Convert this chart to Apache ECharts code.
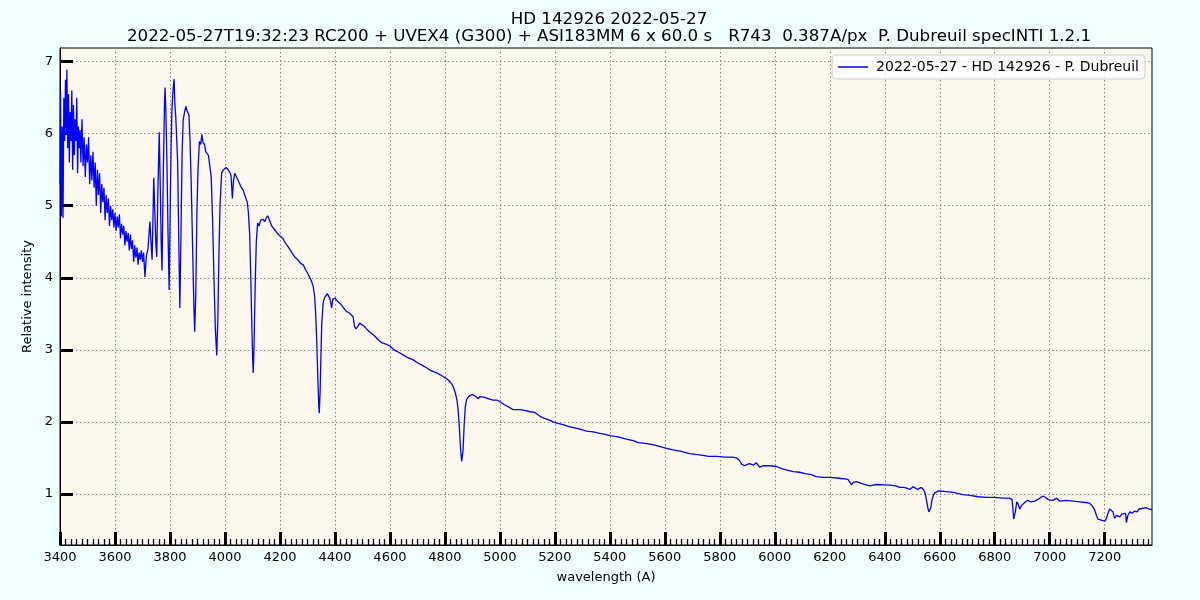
<!DOCTYPE html>
<html>
<head>
<meta charset="utf-8">
<script src="https://cdn.jsdelivr.net/npm/echarts@6/dist/echarts.min.js"></script>
<style>
html,body{margin:0;padding:0;background:#f0ffff;}
#chart{width:1200px;height:600px;}
</style>
</head>
<body>
<div id="chart"></div>
<script>
const titleLine1 = 'HD 142926 2022-05-27';
const titleLine2 = '2022-05-27T19:32:23 RC200 + UVEX4 (G300) + ASI183MM 6 x 60.0 s   R743  0.387A/px  P. Dubreuil specINTI 1.2.1';
const seriesName = '2022-05-27 - HD 142926 - P. Dubreuil';
const xMajorTicks = [3400,3600,3800,4000,4200,4400,4600,4800,5000,5200,5400,5600,5800,6000,6200,6400,6600,6800,7000,7200];
const yMajorTicks = [1,2,3,4,5,6,7];

const wavelengths = [
3400,3402,3405,3408,3411,3414,3417,3420,3423,3425,3428,3431,3434,3437,3440,3443,3446,3449,3452,3455,3458,3461,3464,3467,3470,3473,3476,3480,3484,3488,3492,3496,
3500,3504,3508,3512,3516,3520,3524,3528,3532,3536,3540,3544,3548,3552,3556,3560,3564,3568,3572,3576,3580,3584,3588,3592,3596,
3600,3604,3608,3612,3616,3620,3624,3628,3632,3636,3640,3644,3648,3652,3656,3660,3664,3668,3672,3676,3680,3684,3688,3692,3696,
3700,3704,3709,3714,3720,3727,3731,3735,3738,3741,3745,3749,3752,3756,3761,3765,3768,3771,3776,3780,3782,3785,3789,3793,3797,
3801,3804,3807,3811,3815,3818,3821,3824,3828,3832,3836,3840,3844,3848,3853,3858,3862,3866,3869,3873,3878,3883,3887,3890,3894,3898,
3902,3907,3912,3916,3920,3926,3930,3936,3940,3945,3950,3955,3960,3965,3970,3974,3978,3982,3988,3995,
4004,4012,4018,4022,4027,4031,4036,4042,4048,4054,4060,4066,4072,4076,4081,4085,4090,4094,4098,4101,4103,4106,4110,4114,4119,4124,4130,4135,4139,4145,4150,4155,4160,4165,4170,4176,4182,4188,4194,
4200,4210,4220,4230,4240,4248,4256,4265,4275,4285,4292,4300,4309,4315,4321,4326,4330,4334,4338,4341,4343,4346,4349,4352,4357,4362,4368,4372,4376,4381,4385,4388,4392,4396,
4400,4410,4420,4430,4442,4450,4458,4466,4471,4476,4479,4484,4490,4497,4505,4515,4525,4539,4550,4560,4570,4585,
4600,4615,4630,4648,4665,4685,4700,4715,4733,4750,4770,4794,4805,4815,4824,4830,4838,4844,4848,4853,4857,4861,4863,4866,4870,4874,4879,4886,4893,4898,4903,4910,4916,4921,4926,4933,4945,4960,4975,4990,
5000,5015,5030,5048,5060,5073,5090,5110,5127,5145,5160,5175,5194,5210,5230,5255,5280,5300,5315,5340,5363,5380,
5400,5430,5460,5485,5503,5530,5560,5580,5606,5630,5660,5690,5727,5760,5790,5820,5845,5860,5870,5880,5891,5900,5908,5915,5922,5933,5940,5945,5957,5970,5985,
6006,6025,6045,6067,6090,6110,6130,6151,6175,6200,6225,6250,6266,6279,6285,6297,6320,6345,6370,6394,6420,6440,6454,6470,6480,6491,6503,6509,6519,6524,6533,6540,6545,6550,6556,6560,6563,6567,6572,6577,6581,6594,
6600,6624,6650,6684,6710,6740,6769,6800,6830,6854,6863,6866,6869,6872,6875,6880,6885,6891,6898,6909,6920,6930,6945,6960,6975,6985,6995,
7012,7025,7035,7042,7060,7085,7110,7130,7145,7155,7163,7170,7175,7185,7200,7206,7211,7218,7224,7230,7236,7243,7255,7262,7268,7276,7279,7284,7292,
7300,7308,7318,7325,7330,7340,7350,7360,7367,7372
];

const intensity = [
5.3,6.6,4.85,6.1,4.83,6.5,5.9,6.75,6.0,6.89,5.8,6.55,5.6,6.3,5.9,6.6,5.5,6.4,5.7,6.2,5.9,6.5,5.45,6.1,5.8,6.05,5.6,6.2,5.55,5.95,5.4,5.85,
5.6,5.95,5.3,5.7,5.35,5.75,5.25,5.6,5.0,5.5,5.15,5.45,4.9,5.3,5.05,5.25,4.8,5.15,4.9,5.1,4.72,5.0,4.8,4.95,4.7,
4.9,4.65,4.85,4.7,4.88,4.55,4.75,4.6,4.72,4.45,4.65,4.5,4.62,4.38,4.6,4.4,4.52,4.22,4.45,4.28,4.42,4.18,4.35,4.25,4.38,
4.22,4.35,4.01,4.3,4.4,4.78,4.5,4.25,4.8,5.39,4.9,4.45,4.29,5.2,6.02,5.2,4.5,4.1,5.5,6.4,6.64,6.31,5.6,4.6,3.83,
5.0,5.8,6.31,6.6,6.76,6.4,6.24,6.23,5.6,4.5,3.58,4.6,5.7,6.19,6.3,6.38,6.32,6.3,6.26,5.9,5.2,4.3,3.6,3.25,3.8,4.9,
5.5,5.89,5.85,5.99,5.88,5.85,5.75,5.74,5.7,5.68,5.4,4.8,4.0,3.3,2.92,3.4,4.3,5.0,5.46,5.5,
5.53,5.5,5.46,5.42,5.1,5.35,5.45,5.4,5.35,5.34,5.25,5.22,5.15,5.13,5.05,4.92,4.6,4.0,3.3,2.85,2.68,3.1,3.9,4.5,4.76,4.72,4.8,4.78,4.81,4.78,4.83,4.86,4.82,4.77,4.72,4.7,4.66,4.63,4.6,
4.6,4.55,4.48,4.43,4.37,4.32,4.28,4.25,4.2,4.18,4.12,4.07,4.0,3.95,3.88,3.75,3.5,3.1,2.6,2.25,2.12,2.4,2.9,3.35,3.65,3.72,3.74,3.78,3.76,3.72,3.65,3.58,3.7,3.72,
3.72,3.67,3.64,3.59,3.53,3.52,3.49,3.46,3.33,3.29,3.28,3.33,3.37,3.38,3.33,3.29,3.25,3.21,3.17,3.13,3.1,3.08,
3.05,3.0,2.97,2.93,2.89,2.86,2.82,2.79,2.75,2.71,2.68,2.63,2.6,2.57,2.53,2.49,2.4,2.3,2.17,1.9,1.62,1.45,1.43,1.6,1.95,2.2,2.31,2.35,2.37,2.38,2.39,2.36,2.35,2.32,2.35,2.37,2.34,2.32,2.3,2.3,
2.28,2.24,2.21,2.17,2.17,2.17,2.16,2.14,2.13,2.08,2.05,2.03,2.0,1.98,1.96,1.93,1.91,1.89,1.87,1.86,1.84,1.83,
1.81,1.79,1.76,1.74,1.71,1.7,1.68,1.66,1.63,1.61,1.59,1.56,1.54,1.52,1.52,1.51,1.51,1.5,1.47,1.41,1.39,1.41,1.42,1.44,1.4,1.43,1.41,1.37,1.39,1.39,1.39,
1.38,1.35,1.33,1.31,1.3,1.28,1.27,1.24,1.23,1.23,1.22,1.21,1.2,1.125,1.16,1.17,1.14,1.11,1.13,1.125,1.12,1.11,1.09,1.09,1.08,1.06,1.1,1.09,1.06,1.05,1.09,1.06,1.03,0.95,0.82,0.75,0.73,0.8,0.92,0.98,1.01,1.04,
1.06,1.03,1.02,0.99,0.98,0.96,0.95,0.95,0.94,0.94,0.92,0.8,0.65,0.63,0.75,0.89,0.86,0.79,0.84,0.88,0.91,0.89,0.9,0.93,0.97,0.95,0.92,
0.91,0.94,0.9,0.92,0.91,0.9,0.89,0.88,0.87,0.83,0.78,0.7,0.65,0.64,0.62,0.66,0.72,0.79,0.77,0.75,0.66,0.7,0.68,0.72,0.7,0.73,0.6,0.7,0.75,
0.73,0.76,0.75,0.79,0.81,0.8,0.81,0.79,0.79,0.78
];

const seriesData = wavelengths.map((w, i) => [w, intensity[i]]);

const FONT = 'DejaVu Sans';
const chart = echarts.init(document.getElementById('chart'), null, {renderer: 'canvas'});
chart.setOption({
  backgroundColor: '#f0ffff',
  animation: false,
  title: [
    {text: titleLine1, left: 604, top: 6, textAlign: 'center',
     textStyle: {fontFamily: FONT, fontSize: 16.7, fontWeight: 'normal', color: '#000'}},
    {text: titleLine2, left: 604, top: 23, textAlign: 'center',
     textStyle: {fontFamily: FONT, fontSize: 16.7, fontWeight: 'normal', color: '#000'}}
  ],
  legend: {
    right: 55, top: 55,
    padding: [5, 6, 5, 6],
    backgroundColor: 'rgba(255,255,255,0.8)',
    borderColor: '#cccccc', borderWidth: 1, borderRadius: 4,
    itemWidth: 30, itemHeight: 1.5,
    textStyle: {fontFamily: FONT, fontSize: 14, color: '#000', padding: [0, 0, 0, 3]},
    data: [{name: seriesName, icon: 'rect', itemStyle: {color: '#0000ff'}}]
  },
  grid: {
    left: 60, right: 48, top: 48, bottom: 55,
    show: true, backgroundColor: '#fdf8ee', borderColor: '#000', borderWidth: 1,
    containLabel: false
  },
  xAxis: {
    type: 'value', min: 3400, max: 7372, interval: 200,
    name: 'wavelength (A)', nameLocation: 'middle', nameGap: 26,
    nameTextStyle: {fontFamily: FONT, fontSize: 13, color: '#000'},
    axisLine: {show: true, onZero: false, lineStyle: {color: '#000', width: 1}},
    axisTick: {show: true, inside: true, length: 13, lineStyle: {color: '#000', width: 3}, customValues: xMajorTicks},
    minorTick: {show: true, splitNumber: 10, length: 6, lineStyle: {color: '#000', width: 1.3}},
    axisLabel: {show: true, margin: 6, fontFamily: FONT, fontSize: 13, color: '#000', customValues: xMajorTicks,
                formatter: v => String(v)},
    splitLine: {show: true, lineStyle: {color: '#888', type: [1.5, 2.5], width: 1}}
  },
  yAxis: {
    type: 'value', min: 0.29, max: 7.19,
    name: 'Relative intensity', nameLocation: 'middle', nameGap: 15, nameRotate: 90,
    nameTextStyle: {fontFamily: FONT, fontSize: 13, color: '#000'},
    axisLine: {show: true, onZero: false, lineStyle: {color: '#000', width: 1}},
    axisTick: {show: true, inside: true, length: 13, lineStyle: {color: '#000', width: 3}, customValues: yMajorTicks},
    axisLabel: {show: true, margin: 7, fontFamily: FONT, fontSize: 13, color: '#000', customValues: yMajorTicks,
                formatter: v => String(v)},
    splitLine: {show: true, lineStyle: {color: '#888', type: [1.5, 2.5], width: 1}}
  },
  series: [{
    name: seriesName, type: 'line',
    data: seriesData, symbol: 'none', showSymbol: false,
    lineStyle: {color: '#0000ff', width: 1.3}, itemStyle: {color: '#0000ff'},
    emphasis: {disabled: true}
  }]
});
</script>
</body>
</html>
